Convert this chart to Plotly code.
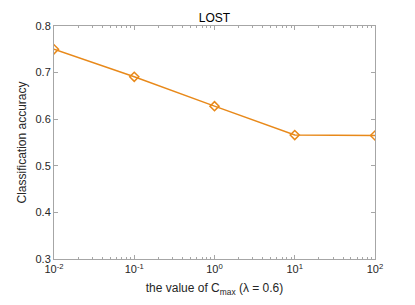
import plotly.graph_objects as go

c_values = [0.01, 0.1, 1, 10, 100]
accuracy = [0.750, 0.691, 0.628, 0.566, 0.565]
x_tickvals = [0.01, 0.1, 1, 10, 100]
x_ticktext = ["10<sup>-2</sup>", "10<sup>-1</sup>", "10<sup>0</sup>", "10<sup>1</sup>", "10<sup>2</sup>"]
y_tickvals = [0.3, 0.4, 0.5, 0.6, 0.7, 0.8]

color = "#e8891a"
axcol = "#a6a6a6"
txtcol = "#262626"
font = "Liberation Sans, Arial, sans-serif"

fig = go.Figure()
fig.add_trace(go.Scatter(
    x=c_values, y=accuracy, mode="lines+markers",
    line=dict(color=color, width=1.5),
    marker=dict(symbol="diamond-open", size=7, color=color, line=dict(width=1.5, color=color)),
    showlegend=False,
))

fig.update_layout(
    width=407, height=297,
    margin=dict(l=46, r=40, t=16, b=42),
    paper_bgcolor="white", plot_bgcolor="white",
    font=dict(family=font, size=11, color=txtcol),
    title=dict(text="LOST", x=0.5, xanchor="center", xref="paper", y=1, yref="paper",
               yanchor="bottom", pad=dict(b=4), font=dict(size=12, color="black", family=font)),
)
fig.update_xaxes(
    type="log", range=[-2, 2],
    tickvals=x_tickvals, ticktext=x_ticktext,
    ticks="inside", ticklen=4, tickcolor=axcol, tickwidth=1,
    minor=dict(ticks="inside", ticklen=2, tickcolor=axcol, showgrid=False,
               tickvals=[m * 10 ** e for e in range(-2, 2) for m in range(2, 10)]),
    showline=True, linecolor=axcol, linewidth=1, mirror="ticks",
    showgrid=False, zeroline=False,
    tickfont=dict(size=11, color=txtcol),
    title=dict(text="the value of C<sub>max</sub> (λ = 0.6)", font=dict(size=12, color=txtcol), standoff=9),
)
fig.update_yaxes(
    range=[0.3, 0.8], tickvals=y_tickvals, tickformat=".1f",
    ticks="inside", ticklen=4, tickcolor=axcol, tickwidth=1,
    showline=True, linecolor=axcol, linewidth=1, mirror="ticks",
    showgrid=False, zeroline=False,
    tickfont=dict(size=11, color=txtcol),
    title=dict(text="Classification accuracy", font=dict(size=12, color=txtcol), standoff=6),
)

fig.write_html("out.html")
